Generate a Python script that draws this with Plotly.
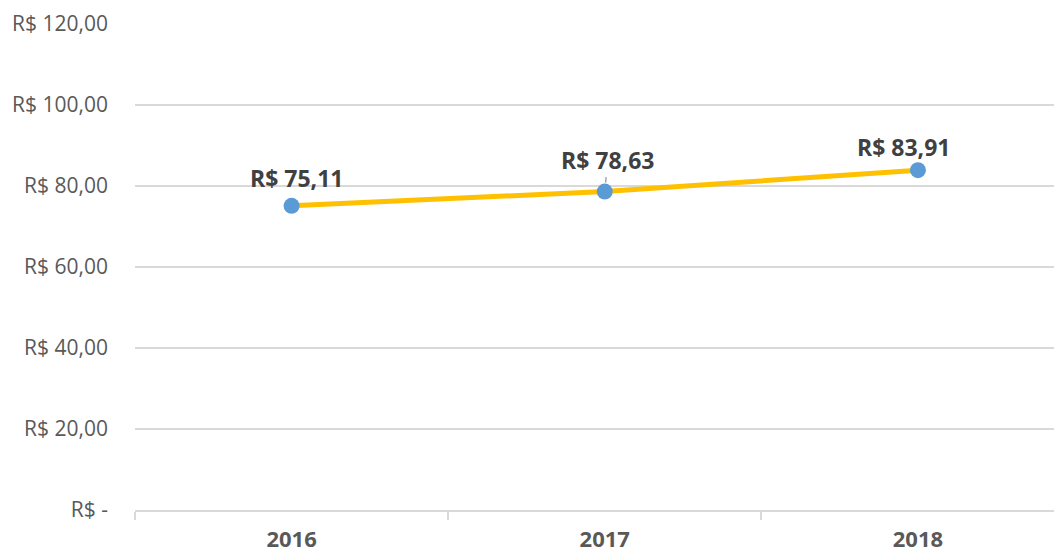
import plotly.graph_objects as go

years = ["2016", "2017", "2018"]
values = [75.11, 78.63, 83.91]
labels = ["R$ 75,11", "R$ 78,63", "R$ 83,91"]
ytick_vals = [0, 20, 40, 60, 80, 100, 120]
ytick_text = ["R$ -", "R$ 20,00", "R$ 40,00", "R$ 60,00", "R$ 80,00", "R$ 100,00", "R$ 120,00"]

FONT = "Open Sans"

fig = go.Figure()
fig.add_trace(go.Scatter(
    x=years, y=values, mode="lines+markers",
    line=dict(color="#FFC000", width=5),
    marker=dict(color="#5B9BD5", size=16),
    hoverinfo="skip", showlegend=False,
))

# label offsets (pixels) per point
offsets = [(5, 28, False), (3, -32, True), (-14, 23, False)]
for i, (v, t, (dx, dy, arrow)) in enumerate(zip(values, labels, offsets)):
    if arrow:
        fig.add_annotation(x=i, y=v, text=t, showarrow=True, ax=dx, ay=dy,
                           arrowhead=0, arrowwidth=1.5, arrowcolor="#a6a6a6", standoff=9,
                           font=dict(family=FONT, size=23, color="#404040", weight="bold"))
    else:
        fig.add_annotation(x=i, y=v, text=t, showarrow=False, xshift=dx, yshift=dy,
                           font=dict(family=FONT, size=23, color="#404040", weight="bold"))

fig.update_layout(
    width=1054, height=548,
    margin=dict(l=127, r=0, t=16, b=46, autoexpand=False),
    paper_bgcolor="white", plot_bgcolor="white",
    font=dict(family=FONT),
    xaxis=dict(
        type="category", range=[-0.5, 2.46], tickson="boundaries",
        ticks="outside", ticklen=8, tickcolor="#d9d9d9", tickwidth=1.5,
        showline=True, linecolor="#d9d9d9", linewidth=2,
        showgrid=False, zeroline=False, automargin=False,
        tickfont=dict(family=FONT, size=22, color="#595959", weight="bold"),
        ticklabelstandoff=9,
    ),
    yaxis=dict(
        range=[0, 120], tickvals=ytick_vals, ticktext=ytick_text,
        showgrid=True, gridcolor="#d9d9d9", gridwidth=1.5,
        zeroline=False, showline=False, automargin=False,
        tickfont=dict(family=FONT, size=21, color="#595959"),
        ticklabelstandoff=26,
    ),
)

fig.write_html("out.html")
